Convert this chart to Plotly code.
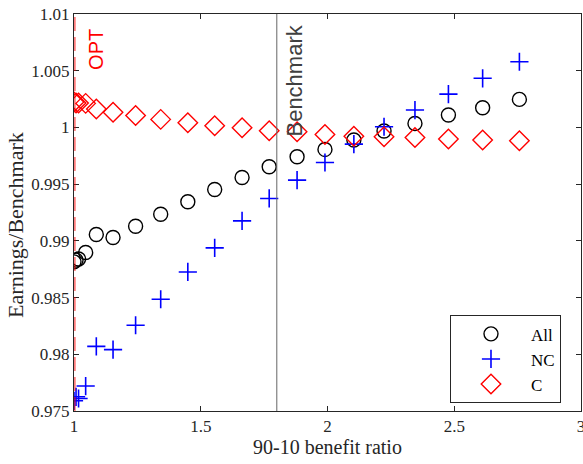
import plotly.graph_objects as go

# ---- data ----
ratio = [1.0, 1.008, 1.018, 1.046, 1.088, 1.154, 1.243, 1.342, 1.449, 1.555,
         1.663, 1.770, 1.880, 1.990, 2.104, 2.223, 2.345, 2.477, 2.612, 2.757]
earn_all = [0.98815, 0.98830, 0.98840, 0.98897, 0.99056, 0.99030, 0.99129, 0.99235,
            0.99345, 0.99453, 0.99559, 0.99653, 0.99741, 0.99806, 0.99889, 0.99968,
            1.00035, 1.00109, 1.00173, 1.00247]
earn_nc = [0.97590, 0.97625, 0.97610, 0.97720, 0.98070, 0.98041, 0.98256, 0.98485,
           0.98726, 0.98938, 0.99176, 0.99374, 0.99535, 0.99691, 0.99853, 1.00006,
           1.00153, 1.00294, 1.00433, 1.00579]
earn_c = [1.00225, 1.00215, 1.00215, 1.00212, 1.00162, 1.00133, 1.00106, 1.00071,
          1.00041, 1.00015, 0.99997, 0.99970, 0.99961, 0.99938, 0.99923, 0.99917,
          0.99912, 0.99897, 0.99889, 0.99882]
opt_x = 1.003
bench_x = 1.8
x_ticks = [1, 1.5, 2, 2.5, 3]
x_ticklabels = ["1", "1.5", "2", "2.5", "3"]
y_ticks = [0.975, 0.98, 0.985, 0.99, 0.995, 1.0, 1.005, 1.01]
y_ticklabels = ["0.975", "0.98", "0.985", "0.99", "0.995", "1", "1.005", "1.01"]

SERIF = "Liberation Serif"
SANS = "Liberation Sans"
AX = "#262626"

fig = go.Figure()
fig.add_trace(go.Scatter(x=ratio, y=earn_all, mode="markers", name="All",
                         marker=dict(symbol="circle-open", size=14, color="black",
                                     line=dict(width=1.4, color="black"))))
fig.add_trace(go.Scatter(x=ratio, y=earn_nc, mode="markers", name="NC",
                         marker=dict(symbol="cross-thin-open", size=13, color="blue",
                                     line=dict(width=1.6, color="blue"))))
fig.add_trace(go.Scatter(x=ratio, y=earn_c, mode="markers", name="C",
                         marker=dict(symbol="diamond-open", size=15, color="red",
                                     line=dict(width=1.4, color="red"))))

fig.add_shape(type="line", xref="x", yref="paper", x0=opt_x, x1=opt_x, y0=0, y1=1,
              line=dict(color="rgba(255,0,0,0.5)", width=2, dash="14px,6px"))
fig.add_shape(type="line", xref="x", yref="paper", x0=bench_x, x1=bench_x, y0=0, y1=1,
              line=dict(color="#666666", width=1))

fig.add_annotation(x=1.084, y=0.967, xref="x", yref="paper", text="OPT", showarrow=False,
                   textangle=-90, xanchor="center", yanchor="top",
                   font=dict(family=SANS, size=20, color="red"))
fig.add_annotation(x=1.871, y=0.978, xref="x", yref="paper", text="Benchmark", showarrow=False,
                   textangle=-90, xanchor="center", yanchor="top",
                   font=dict(family=SANS, size=22, color="#404040"))
# y-axis title
fig.add_annotation(x=-0.115, y=0.468, xref="paper", yref="paper", text="Earnings/Benchmark",
                   showarrow=False, textangle=-90, xanchor="center", yanchor="middle",
                   font=dict(family=SERIF, size=22, color=AX))

fig.update_layout(
    width=583, height=464,
    margin=dict(l=74, r=2, t=14, b=53, autoexpand=False),
    paper_bgcolor="white", plot_bgcolor="white",
    font=dict(family=SERIF, size=17, color=AX),
    showlegend=True,
    legend=dict(x=0.7416, y=0.241, xanchor="left", yanchor="top",
                bgcolor="white", bordercolor=AX, borderwidth=1,
                font=dict(family=SERIF, size=17, color="black"),
                itemwidth=70, tracegroupgap=0),
)
fig.update_xaxes(range=[1, 3], tickvals=x_ticks, ticktext=x_ticklabels, automargin=False,
                 ticks="inside", ticklen=5, tickcolor=AX, showline=True, linecolor=AX,
                 linewidth=1, mirror="ticks", showgrid=False, zeroline=False,
                 ticklabeloverflow="allow",
                 tickfont=dict(family=SERIF, size=17, color=AX),
                 title=dict(text="90-10 benefit ratio", standoff=4,
                            font=dict(family=SERIF, size=20, color=AX)))
fig.update_yaxes(range=[0.975, 1.01], tickvals=y_ticks, ticktext=y_ticklabels, automargin=False,
                 ticks="inside", ticklen=5, tickcolor=AX, showline=True, linecolor=AX,
                 linewidth=1, mirror="ticks", showgrid=False, zeroline=False,
                 tickfont=dict(family=SERIF, size=17, color=AX))

fig.write_html("out.html", config={"displayModeBar": False},
               post_script="document.body.style.margin='0';document.body.style.padding='0';")
